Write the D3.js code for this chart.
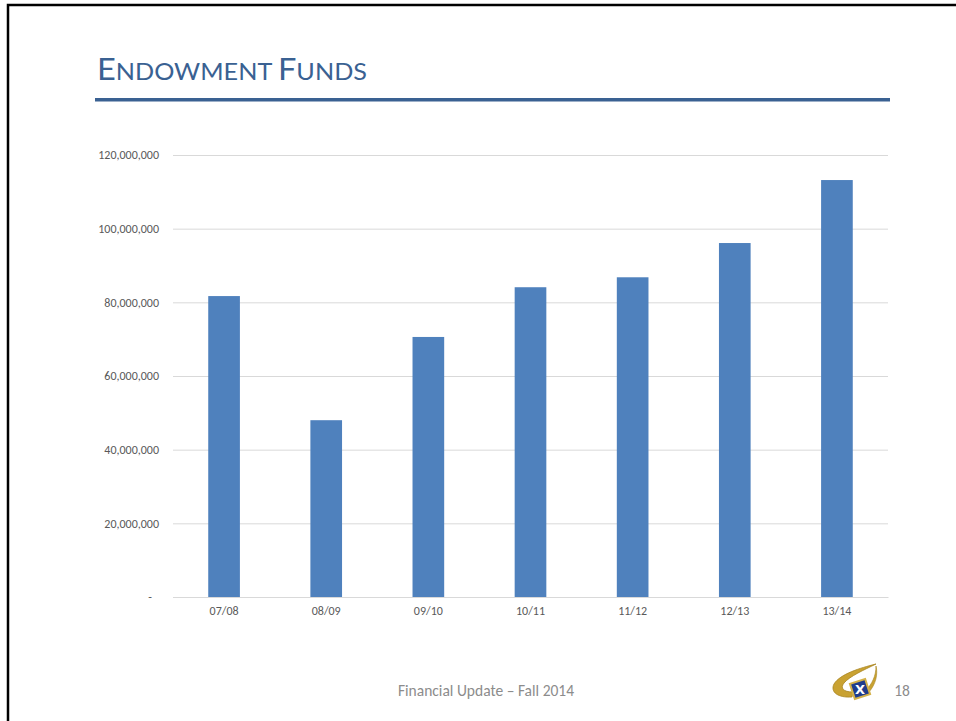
<!DOCTYPE html>
<html>
<head>
<meta charset="utf-8">
<script src="https://cdn.jsdelivr.net/npm/d3@7"></script>
<style>
  body { margin: 0; background: #fff; }
  svg { display: block; font-family: Carlito, Lato, "Open Sans", "Liberation Sans", sans-serif; }
  .tick text { font-family: Carlito, Lato, "Open Sans", sans-serif; fill: #595959; font-size: 12px; }
</style>
</head>
<body>
<div id="chart"></div>
<script>
const years = ["07/08", "08/09", "09/10", "10/11", "11/12", "12/13", "13/14"];
const funds = [81700000, 48000000, 70600000, 84100000, 86800000, 96100000, 113200000];
const yTicks = [0, 20000000, 40000000, 60000000, 80000000, 100000000, 120000000];

const width = 956;
const height = 721;

const svg = d3.select("#chart").append("svg")
  .attr("width", width)
  .attr("height", height);

// slide frame
svg.append("rect")
  .attr("x", 8).attr("y", 5)
  .attr("width", width + 20).attr("height", height + 20)
  .attr("fill", "none")
  .attr("stroke", "#000")
  .attr("stroke-width", 2.5);

// title in small caps
const title = svg.append("text")
  .attr("x", 97).attr("y", 80)
  .attr("fill", "#3A6192")
  .style("font-family", "Lato, 'Open Sans', sans-serif")
  .attr("textLength", 270)
  .attr("lengthAdjust", "spacingAndGlyphs");
[["E", 31], ["NDOWMENT ", 24], ["F", 31], ["UNDS", 24]].forEach(([t, s]) => {
  title.append("tspan").style("font-size", s + "px").text(t);
});

svg.append("rect")
  .attr("x", 95).attr("y", 98)
  .attr("width", 795).attr("height", 3.5)
  .attr("fill", "#3A6192");

const margin = { left: 173, right: 68, top: 155, bottom: 124 };
const plotW = width - margin.left - margin.right;
const plotH = height - margin.top - margin.bottom;

const x = d3.scaleBand().domain(years).range([0, plotW]).paddingInner(0.69).paddingOuter(0.345);
const y = d3.scaleLinear().domain([0, 120000000]).range([plotH, 0]);

const g = svg.append("g").attr("transform", `translate(${margin.left},${margin.top})`);

const yAxis = d3.axisLeft(y)
  .tickValues(yTicks)
  .tickSize(-plotW)
  .tickPadding(14)
  .tickFormat(d => d === 0 ? "-" : d3.format(",")(d));

const ya = g.append("g").call(yAxis);
ya.select(".domain").remove();
ya.selectAll(".tick line").attr("stroke", "#D9D9D9").attr("stroke-width", 1);
ya.selectAll(".tick").filter(d => d === 0).select("text").attr("dx", -7);

g.selectAll(".bar")
  .data(funds)
  .enter()
  .append("rect")
  .attr("class", "bar")
  .attr("x", (d, i) => x(years[i]))
  .attr("y", d => y(d))
  .attr("width", x.bandwidth())
  .attr("height", d => plotH - y(d))
  .attr("fill", "#4F81BD");

const xAxis = d3.axisBottom(x).tickSize(0).tickPadding(9);
const xa = g.append("g").attr("transform", `translate(0,${plotH})`).call(xAxis);
xa.select(".domain").attr("stroke", "#D9D9D9");

// footer
svg.append("text")
  .attr("x", 486).attr("y", 696)
  .attr("text-anchor", "middle")
  .attr("fill", "#8C8C8C")
  .style("font-size", "15.5px")
  .text("Financial Update – Fall 2014");

svg.append("text")
  .attr("x", 902).attr("y", 696)
  .attr("text-anchor", "middle")
  .attr("fill", "#8C8C8C")
  .style("font-size", "15.5px")
  .text("18");

// logo: gold swoosh with blue X badge
const logo = svg.append("g");
logo.append("path")
  .attr("d", "M876,664 C860,668 840,674 834,684 C830,692 838,698 852,697 L853,692 C843,692 840,688 844,683 C850,676 864,670 876,664 Z")
  .attr("fill", "#C9A232")
  .attr("stroke", "#A8841F")
  .attr("stroke-width", 0.8);
logo.append("path")
  .attr("d", "M866,690 C872,684 876,676 876,666 C878,674 876,684 869,692 Z")
  .attr("fill", "#C9A232")
  .attr("stroke", "#A8841F")
  .attr("stroke-width", 0.6);
logo.append("rect")
  .attr("x", -8).attr("y", -8)
  .attr("width", 16).attr("height", 16)
  .attr("transform", "translate(860,689) rotate(-18)")
  .attr("fill", "#1F3C8C")
  .attr("stroke", "#D4B24A")
  .attr("stroke-width", 2);
logo.append("text")
  .attr("x", 860).attr("y", 694)
  .attr("text-anchor", "middle")
  .attr("fill", "#fff")
  .style("font-family", "'DejaVu Sans', sans-serif")
  .style("font-size", "13px")
  .style("font-weight", "bold")
  .text("X");
</script>
</body>
</html>
